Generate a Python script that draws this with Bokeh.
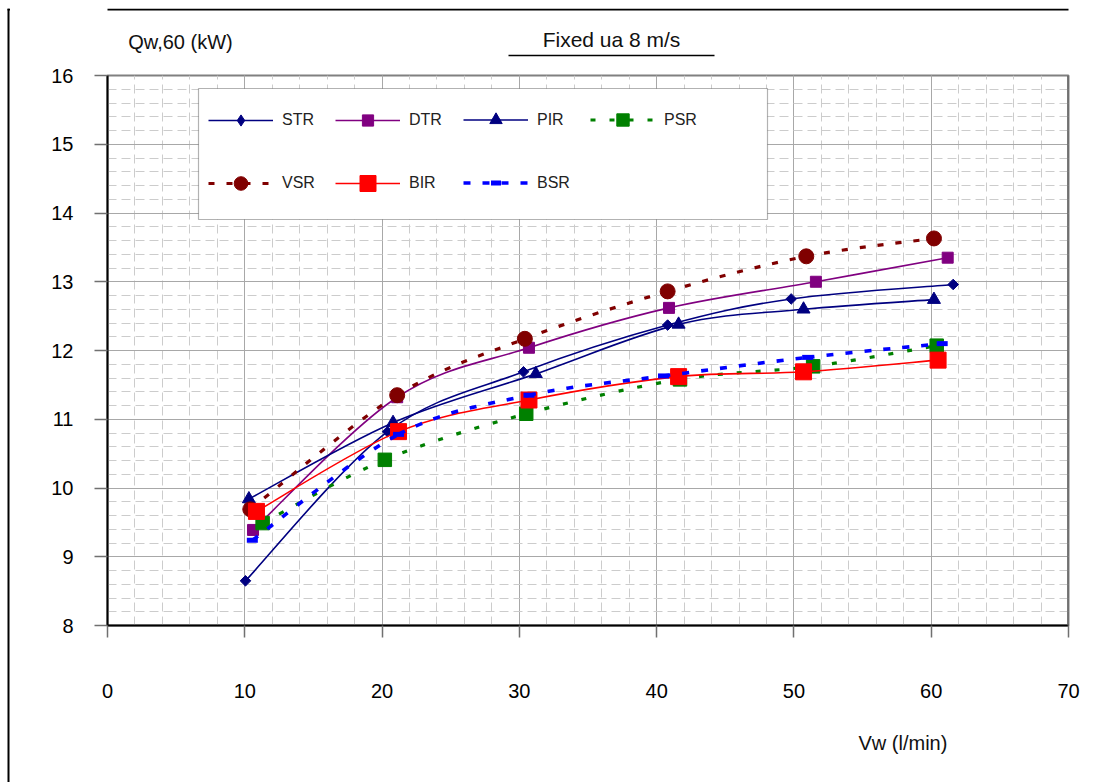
import numpy as np
from bokeh.plotting import figure
from bokeh.layouts import row, column
from bokeh.models import (Range1d, SingleIntervalTicker, Legend, LegendItem, Label,
                          BoxAnnotation, Span, Title)
from bokeh.embed import file_html
from bokeh.resources import INLINE

# ---- data ----
str_x = [10.05, 20.4, 30.3, 40.8, 49.8, 61.6]
str_y = [8.65, 10.82, 11.69, 12.37, 12.75, 12.96]

dtr_x = [10.6, 21.1, 30.7, 40.9, 51.6, 61.2]
dtr_y = [9.39, 11.32, 12.04, 12.62, 13.0, 13.35]

pir_x = [10.3, 20.8, 31.2, 41.6, 50.7, 60.2]
pir_y = [9.84, 10.95, 11.66, 12.38, 12.6, 12.74]

psr_x = [11.3, 20.2, 30.5, 41.7, 51.4, 60.4]
psr_y = [9.49, 10.41, 11.08, 11.58, 11.77, 12.07]

vsr_x = [10.4, 21.1, 30.4, 40.8, 50.9, 60.2]
vsr_y = [9.69, 11.35, 12.17, 12.86, 13.37, 13.63]

bir_x = [10.85, 21.2, 30.7, 41.6, 50.7, 60.5]
bir_y = [9.66, 10.82, 11.28, 11.62, 11.69, 11.86]

bsr_x = [10.55, 21.2, 30.7, 40.5, 51.0, 60.8]
bsr_y = [9.24, 10.78, 11.35, 11.63, 11.9, 12.1]

x_ticks_interval = 10
y_ticks_interval = 1

FONT = "Liberation Sans"


def blank_fig(w, h):
    f = figure(width=w, height=h, output_backend="svg", toolbar_location=None,
               x_axis_type=None, y_axis_type=None, x_range=Range1d(0, 1), y_range=Range1d(0, 1),
               min_border=0)
    f.outline_line_color = None
    f.background_fill_color = "white"
    f.border_fill_color = "white"
    f.grid.visible = False
    return f


def sbox(f, left, right, top, bottom, **kw):
    f.add_layout(BoxAnnotation(left=left, right=right, top=top, bottom=bottom,
                               left_units="screen", right_units="screen",
                               top_units="screen", bottom_units="screen", **kw))


# ---- top spacer and left strip (outer chart border) ----
fb = blank_fig(1095, 8)

fl = blank_fig(10, 774)
sbox(fl, 7, 9, 774, 0, fill_color="black", fill_alpha=1, line_alpha=0)
sbox(fl, 7, 10, 774, 772, fill_color="black", fill_alpha=1, line_alpha=0)

# ---- top strip with the titles (its frame lines up with the chart frame) ----
ft = blank_fig(1085, 54)
sbox(ft, -120, 1000, 54, 52, fill_color="black", fill_alpha=1, line_alpha=0)
ft.add_layout(Label(x=73, y=21, x_units="screen", y_units="screen", text="Qw,60 (kW)",
                    text_font=FONT, text_font_size="20px", text_baseline="middle",
                    text_align="center", text_color="#111111"))
ft.add_layout(Label(x=504, y=23, x_units="screen", y_units="screen", text="Fixed ua 8 m/s",
                    text_font=FONT, text_font_size="21px", text_baseline="middle",
                    text_align="center", text_color="#111111"))
sbox(ft, 401, 607, 7.8, 6.2, fill_color="black", fill_alpha=1, line_alpha=0)

# ---- main chart ----
p = figure(width=1085, height=720, output_backend="svg", toolbar_location=None,
           x_range=Range1d(0, 70), y_range=Range1d(8, 16),
           min_border_left=97, min_border_right=27, min_border_top=13, min_border_bottom=139)
p.background_fill_color = "white"
p.border_fill_color = "white"
p.outline_line_color = "#808080"
p.outline_line_width = 2

p.xaxis.ticker = SingleIntervalTicker(interval=x_ticks_interval, num_minor_ticks=5)
p.yaxis.ticker = SingleIntervalTicker(interval=y_ticks_interval, num_minor_ticks=5)
p.xgrid.ticker = p.xaxis.ticker
p.ygrid.ticker = p.yaxis.ticker
for g in (p.xgrid, p.ygrid):
    g.grid_line_color = "#a8a8a8"
    g.grid_line_width = 1
    g.minor_grid_line_color = "#cccccc"
    g.minor_grid_line_dash = "9 5"
    g.minor_grid_line_width = 1

for ax in (p.xaxis, p.yaxis):
    ax.axis_line_color = "black"
    ax.axis_line_width = 2
    ax.major_tick_line_color = "#707070"
    ax.major_tick_line_width = 1.5
    ax.major_tick_in = 0
    ax.minor_tick_in = 0
    ax.minor_tick_out = 0
    ax.major_label_text_font = FONT
    ax.major_label_text_font_size = "20px"
    ax.major_label_text_color = "black"
p.xaxis.major_tick_out = 12
p.yaxis.major_tick_out = 13
p.xaxis.major_label_standoff = 46
p.yaxis.major_label_standoff = 21

p.add_layout(Span(location=70, dimension="height", line_color="#606060", line_width=2.5))


def smooth(xs, ys):
    x = np.asarray(xs, dtype=float)
    y = np.asarray(ys, dtype=float)
    n = len(x)
    xp = np.concatenate([[x[0]], x, [x[-1]]])
    yp = np.concatenate([[y[0]], y, [y[-1]]])
    cx0 = x[:-1] + (xp[2:n + 1] - xp[0:n - 1]) / 6
    cy0 = y[:-1] + (yp[2:n + 1] - yp[0:n - 1]) / 6
    cx1 = x[1:] - (xp[3:n + 2] - xp[1:n]) / 6
    cy1 = y[1:] - (yp[3:n + 2] - yp[1:n]) / 6
    return dict(x0=x[:-1], y0=y[:-1], x1=x[1:], y1=y[1:], cx0=cx0, cy0=cy0, cx1=cx1, cy1=cy1)


# name, x, y, colour, line width, dash, marker, size, angle, marker line width,
# legend marker, legend marker size, legend column, legend row
series = [
    ("STR", str_x, str_y, "#000080", 1.6, "solid", "square", 7.5, np.pi / 4, 1, "diamond", 11, 0, 0),
    ("DTR", dtr_x, dtr_y, "#800080", 1.6, "solid", "square", 11, 0, 1, None, 11, 1, 0),
    ("PIR", pir_x, pir_y, "#000080", 1.6, "solid", "triangle", 13, 0, 1, None, 12.5, 2, 0),
    ("PSR", psr_x, psr_y, "#008000", 3.2, "5 14", "square", 13.5, 0, 1, None, 12.5, 3, 0),
    ("VSR", vsr_x, vsr_y, "#800000", 3.2, "6 12", "circle", 15, 0, 1, None, 13.5, 0, 1),
    ("BIR", bir_x, bir_y, "#ff0000", 1.6, "solid", "square", 16, 0, 1, None, 16, 1, 1),
    ("BSR", bsr_x, bsr_y, "#0000ff", 3.6, "7 12", "dash", 11, 0, 5, None, 10, 2, 1),
]

# legend frame
sbox(p, 91, 660, 537, 406, fill_color="white", fill_alpha=1, line_color="black", line_width=1.2)

glyph_left = [101, 228, 356, 483]   # frame-relative x of the legend keys
row_center = [505, 442]             # frame-relative y of the legend rows

for (name, xs, ys, col, lw, dash, mk, ms, ang, mlw, lmk, lms, lc, lr) in series:
    p.bezier(**smooth(xs, ys), line_color=col, line_width=lw, line_dash=dash)
    key = p.line(x=xs[:1], y=ys[:1], line_color=col, line_width=lw, line_dash=dash)
    sc = p.scatter(x=xs, y=ys, marker=mk, size=ms, angle=ang, fill_color=col, line_color=col,
                   line_width=mlw)
    if lmk is not None:
        km = p.scatter(x=xs[:1], y=ys[:1], marker=lmk, size=9, fill_color=col, line_color=col)
    else:
        km = sc
    gh = int(round(lms / 0.4))
    lg = Legend(items=[LegendItem(label=name, renderers=[key, km])],
                location=(glyph_left[lc], int(round(row_center[lr] - gh / 2))),
                orientation="horizontal", glyph_width=65, glyph_height=gh,
                label_height=gh, label_standoff=9, spacing=0, padding=0, margin=0,
                background_fill_alpha=0, border_line_alpha=0,
                label_text_font=FONT, label_text_font_size="16px",
                label_text_color="#222222")
    p.add_layout(lg)

p.add_layout(Title(text="Vw (l/min)", align="left", offset=751, standoff=58,
                   text_font=FONT, text_font_size="20px", text_font_style="normal",
                   text_color="#111111"), "below")

layout = column(fb, row(fl, column(ft, p, spacing=0), spacing=0), spacing=0)
open("out.html", "w").write(file_html(layout, INLINE))
